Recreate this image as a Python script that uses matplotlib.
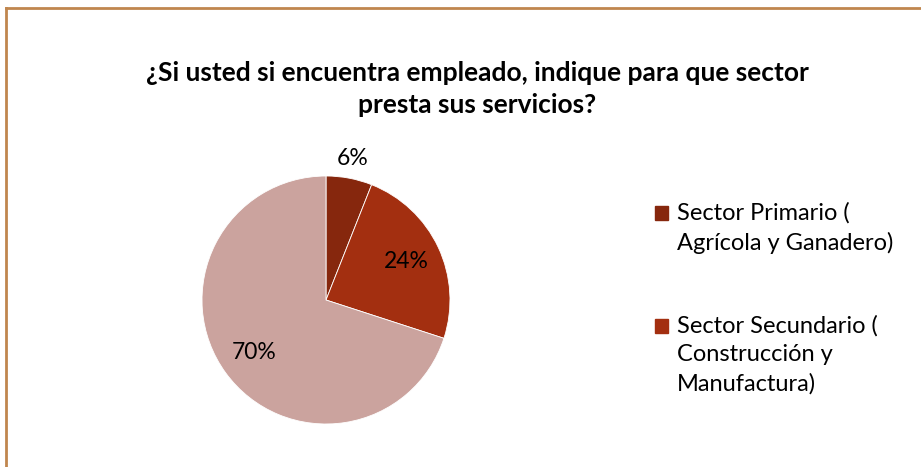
import matplotlib.pyplot as plt
from matplotlib.patches import Rectangle
from matplotlib.lines import Line2D
import numpy as np

plt.rcParams['font.family'] = ['Lato', 'DejaVu Sans']

# datos
sectores = ['Sector Primario (\nAgrícola y Ganadero)',
            'Sector Secundario (\nConstrucción y\nManufactura)',
            'Sector Terciario (\nServicios)']
porcentajes = [6, 24, 70]
colores = ['#86270D', '#A32F10', '#CBA39E']
titulo = '¿Si usted si encuentra empleado, indique para que sector\npresta sus servicios?'

W, H = 921, 467
fig = plt.figure(figsize=(W / 100, H / 100), dpi=100)

# pie: centro (326, 300) px, radio 124 px
cx, cy, r = 326, 300, 124
ax = fig.add_axes([(cx - r) / W, (H - cy - r) / H, 2 * r / W, 2 * r / H])
wedges, textos, autotextos = ax.pie(
    porcentajes, colors=colores, startangle=90, counterclock=False,
    autopct='%1.0f%%', pctdistance=0.72,
    wedgeprops=dict(linewidth=0.6, edgecolor='white'),
    textprops=dict(fontsize=16.5, color='black'))
ax.set_xlim(-1, 1)
ax.set_ylim(-1, 1)

# la etiqueta pequeña va fuera del pastel
w = wedges[0]
ang = np.deg2rad((w.theta1 + w.theta2) / 2)
autotextos[0].set_position((1.16 * np.cos(ang), 1.16 * np.sin(ang)))

fig.text(0.518, (H - 89) / H, titulo, ha='center', va='center',
         fontsize=19, fontweight='bold', linespacing=1.42)

# leyenda (solo las dos primeras entradas son visibles)
y0 = 212
for i in range(2):
    fig.patches.append(Rectangle((655 / W, (H - y0 - 8) / H), 13 / W, 14 / H,
                                 transform=fig.transFigure, color=colores[i]))
    fig.text(677 / W, (H - y0 + 10) / H, sectores[i], ha='left', va='top',
             fontsize=17, linespacing=1.45)
    y0 += 113

# borde
borde = '#C0864E'
fig.lines.append(Line2D([6 / W, 1], [(H - 8) / H] * 2, transform=fig.transFigure,
                        color=borde, lw=2))
fig.lines.append(Line2D([6 / W] * 2, [0, (H - 8) / H], transform=fig.transFigure,
                        color=borde, lw=2))

fig.savefig('out.png', dpi=100)
